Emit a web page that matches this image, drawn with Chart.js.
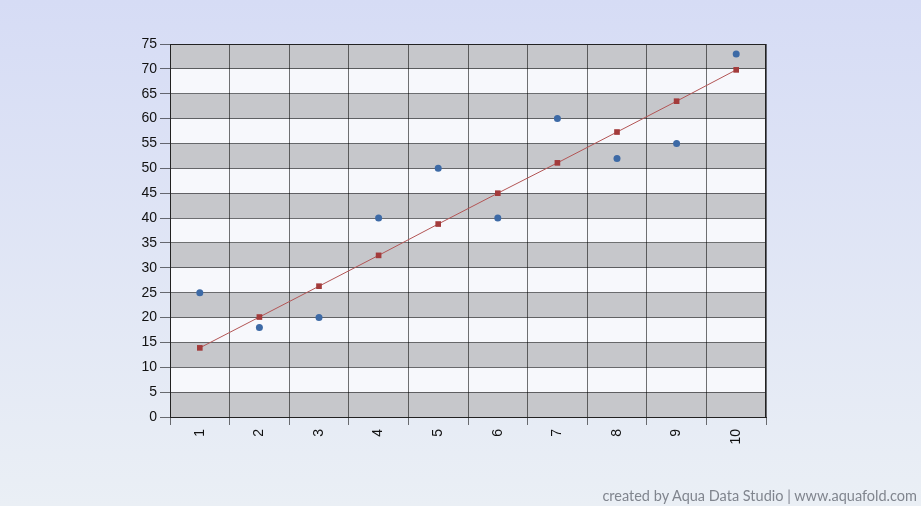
<!DOCTYPE html>
<html>
<head>
<meta charset="utf-8">
<script src="https://cdn.jsdelivr.net/npm/chart.js@4"></script>
<style>
  html, body { margin: 0; padding: 0; }
  body {
    width: 921px; height: 506px; overflow: hidden; position: relative;
    background: linear-gradient(to bottom, rgb(214,220,245), rgb(234,239,245));
  }
  #credit {
    position: absolute; right: 4px; bottom: 2px;
    font-family: Lato, "Open Sans", sans-serif; font-size: 14.5px; color: #80858e;
  }
</style>
</head>
<body>
<canvas id="myChart" width="921" height="506"></canvas>
<div id="credit">created by Aqua Data Studio | www.aquafold.com</div>
<script>
var categories = ['1', '2', '3', '4', '5', '6', '7', '8', '9', '10'];
var observed = [25, 18, 20, 40, 50, 40, 60, 52, 55, 73];
var fitted = [13.9, 20.1, 26.3, 32.5, 38.8, 45.0, 51.1, 57.3, 63.5, 69.8];

// gray / white horizontal bands every 5 units
const bands = {
  id: 'bands',
  beforeDraw(chart) {
    const c = chart.ctx, a = chart.chartArea, y = chart.scales.y;
    c.save();
    for (let v = 0; v < 75; v += 5) {
      c.fillStyle = (v / 5) % 2 === 0 ? '#c6c7cb' : '#f7f8fc';
      const top = y.getPixelForValue(v + 5), bot = y.getPixelForValue(v);
      c.fillRect(a.left, top, a.right - a.left, bot - top);
    }
    c.restore();
  },
  afterDatasetsDraw(chart) {
    const c = chart.ctx, a = chart.chartArea;
    c.save();
    c.strokeStyle = '#222';
    c.lineWidth = 1;
    c.strokeRect(a.left + 0.5, a.top + 0.5, a.right - a.left - 1, a.bottom - a.top);
    c.restore();
  }
};

const ctx = document.getElementById('myChart');

new Chart(ctx, {
  type: 'line',
  data: {
    labels: categories,
    datasets: [{
      label: 'observed',
      data: observed,
      showLine: false,
      pointStyle: 'circle',
      pointRadius: 3.5,
      backgroundColor: '#3d6aa6',
      borderColor: '#3d6aa6',
      borderWidth: 0
    }, {
      label: 'fit',
      data: fitted,
      pointStyle: 'rect',
      pointRadius: 4,
      backgroundColor: '#a33b3b',
      pointBorderWidth: 0,
      borderColor: '#b35555',
      borderWidth: 1
    }]
  },
  plugins: [bands],
  options: {
    responsive: false,
    animation: false,
    layout: { padding: { top: 44, right: 155, left: 0, bottom: 0 } },
    plugins: { legend: { display: false }, tooltip: { enabled: false } },
    scales: {
      x: {
        offset: true,
        grid: { offset: true, color: 'rgba(0,0,0,0.55)', tickLength: 8, drawTicks: true },
        border: { color: '#222' },
        ticks: {
          minRotation: 90, maxRotation: 90, padding: 4,
          color: '#111', font: { family: 'Liberation Sans, Arial', size: 14 }
        },
        afterFit(scale) { scale.height = 89; }
      },
      y: {
        min: 0, max: 75,
        ticks: {
          stepSize: 5, padding: 3,
          color: '#111', font: { family: 'Liberation Sans, Arial', size: 14 }
        },
        grid: { color: 'rgba(0,0,0,0.55)', tickLength: 10 },
        border: { color: '#222' },
        afterFit(scale) { scale.width = 170; }
      }
    }
  }
});
</script>
</body>
</html>
